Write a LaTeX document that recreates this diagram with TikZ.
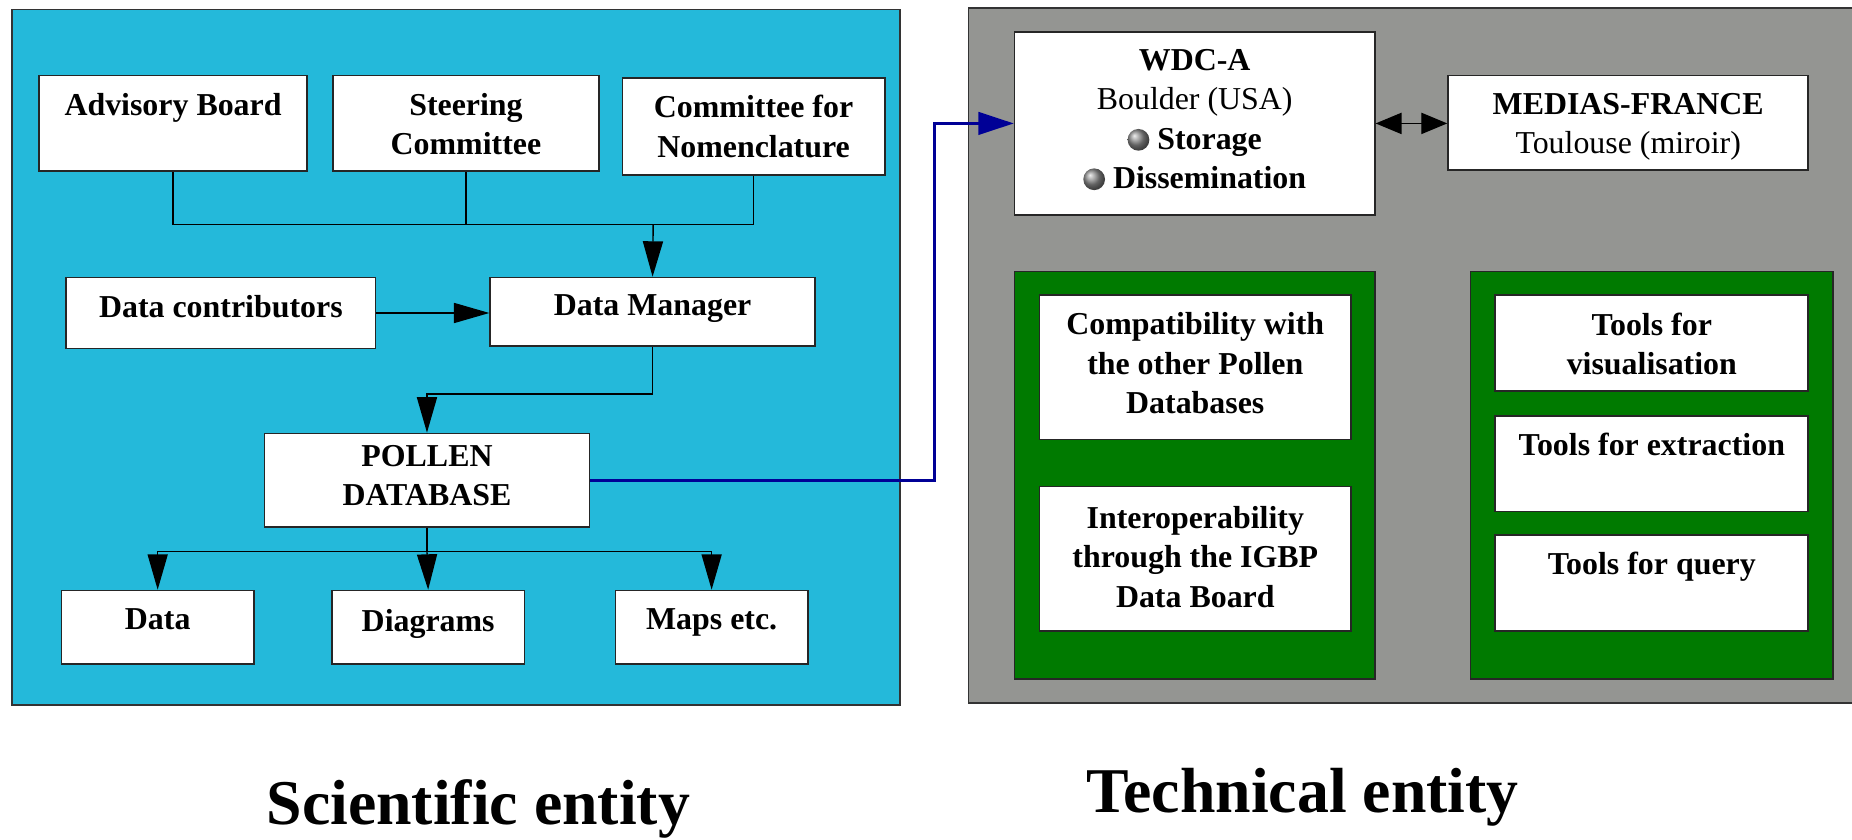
\documentclass[tikz,border=0pt]{standalone}
\usepackage{fontspec}
\setmainfont{Liberation Serif}
\usetikzlibrary{arrows.meta,fit}

\definecolor{sciblue}{RGB}{36,185,218}
\definecolor{techgray}{RGB}{148,149,146}
\definecolor{toolgreen}{RGB}{0,122,0}
\definecolor{linknavy}{RGB}{0,0,150}

% small shaded sphere used as a list bullet
\newcommand\ballitem{\tikz[baseline={(0pt,-4pt)}]\shade[ball color=black!45] (0pt,0pt) circle (4.6pt);}

\tikzset{
  panel/.style={draw=black!80, line width=0.7pt, inner sep=0pt},
  box/.style={draw=black!85, fill=white, line width=0.7pt, inner sep=0pt},
  gbox/.style={draw=black!85, fill=toolgreen, line width=0.7pt, inner sep=0pt},
  lbl/.style={inner sep=0pt, anchor=north, align=center,
              font=\fontsize{13.5}{16.7}\selectfont\bfseries},
  wire/.style={line width=0.6pt, draw=black},
  leadto/.style={-{Triangle[length=15pt,width=8.5pt]}},
  bothways/.style={{Triangle[length=11pt,width=9pt]}-{Triangle[length=11pt,width=9pt]}},
  navylink/.style={draw=linknavy, line width=1.3pt, -{Triangle[length=15pt,width=9.5pt]}},
  title/.style={font=\fontsize{27}{30}\selectfont\bfseries, anchor=base, inner sep=0pt}
}

\begin{document}
\begin{tikzpicture}[x=0.5pt,y=-0.5pt]
\useasboundingbox (0,0) rectangle (1568,711);

% ---------- panels ----------
\node[panel, fill=sciblue, fit={(10,8) (762,597)}] (sci) {};
\fill[techgray] (820,7) rectangle (1568,595);
\draw[panel] (1568,7) -- (820,7) -- (820,595) -- (1568,595);
\coordinate (tech) at (820,7);

% ---------- scientific entity ----------
\node[box, fit={(33,64) (260,145)}] (ab) {};
\node[lbl] at ([yshift=-7.5pt]ab.north) {Advisory Board};

\node[box, fit={(282,64) (507,145)}] (sc) {};
\node[lbl] at ([yshift=-7.5pt]sc.north) {Steering\\Committee};

\node[box, fit={(527,66) (749,148)}] (cn) {};
\node[lbl] at ([yshift=-7.5pt]cn.north) {Committee for\\Nomenclature};

\node[box, fit={(56,235) (318,295)}] (dc) {};
\node[lbl] at ([yshift=-7.5pt]dc.north) {Data contributors};

\node[box, fit={(415,235) (690,293)}] (dm) {};
\node[lbl] at ([yshift=-7.5pt]dm.north) {Data Manager};

\node[box, fit={(224,367) (499,446)}] (pdb) {};
\node[lbl] at ([yshift=-5pt]pdb.north) {POLLEN\\DATABASE};

\node[box, fit={(52,500) (215,562)}] (data) {};
\node[lbl] at ([yshift=-8pt]data.north) {Data};

\node[box, fit={(281,500) (444,562)}] (diag) {};
\node[lbl] at ([yshift=-8pt]diag.north) {Diagrams};

\node[box, fit={(521,500) (684,562)}] (maps) {};
\node[lbl] at ([yshift=-8pt]maps.north) {Maps etc.};

% connectors of the scientific entity
\coordinate (join) at (553,190);
\draw[wire] (ab.south) |- (join);
\draw[wire] (sc.south) -- (sc.south |- join);
\draw[wire] (cn.south) |- (join);
\draw[wire, leadto] (join) -- (dm.north);
\draw[wire, leadto] (dc.east) -- (dc.east -| dm.west);
\draw[wire, leadto] (dm.south) -- ++(0,40) -| (pdb.north);

\coordinate (fan) at (362,467);
\draw[wire] (pdb.south) -- (pdb.south |- fan);
\draw[wire, leadto] (pdb.south |- fan) -- (diag.north);
\draw[wire, leadto] (pdb.south |- fan) -| (data.north);
\draw[wire, leadto] (pdb.south |- fan) -| (maps.north);

% ---------- technical entity ----------
\node[box, fit={(859,27) (1164,182)}] (wdc) {};
\node[lbl] at ([yshift=-7.5pt]wdc.north)
  {WDC-A\\{\mdseries Boulder (USA)}\\\ballitem\ Storage\\\ballitem\ Dissemination};

\node[box, fit={(1226,64) (1531,144)}] (medias) {};
\node[lbl] at ([yshift=-7.5pt]medias.north) {MEDIAS-FRANCE\\{\mdseries Toulouse (miroir)}};

\node[gbox, fit={(859,230) (1164,575)}] (gleft) {};
\node[gbox, fit={(1245,230) (1552,575)}] (gright) {};

\node[box, fit={(880,250) (1144,372)}] (compat) {};
\node[lbl] at ([yshift=-7.5pt]compat.north) {Compatibility with\\the other Pollen\\Databases};

\node[box, fit={(880,412) (1144,534)}] (interop) {};
\node[lbl] at ([yshift=-8.5pt]interop.north) {Interoperability\\through the IGBP\\Data Board};

\node[box, fit={(1266,250) (1531,331)}] (tvis) {};
\node[lbl] at ([yshift=-7.5pt]tvis.north) {Tools for\\visualisation};

\node[box, fit={(1266,352) (1531,433)}] (textr) {};
\node[lbl] at ([yshift=-7.5pt]textr.north) {Tools for extraction};

\node[box, fit={(1266,453) (1531,534)}] (tquery) {};
\node[lbl] at ([yshift=-7.5pt]tquery.north) {Tools for query};

% links
\coordinate (bend) at (791,0);
\draw[navylink] (pdb.east) -| (bend |- wdc.west) -- (wdc.west);
\draw[wire, bothways] (wdc.east) -- (wdc.east -| medias.west);

% ---------- captions ----------
\node[title] (scititle) at (405,698) {Scientific entity};
\node[title] (techtitle) at (1103,688) {Technical entity};
\end{tikzpicture}
\end{document}
